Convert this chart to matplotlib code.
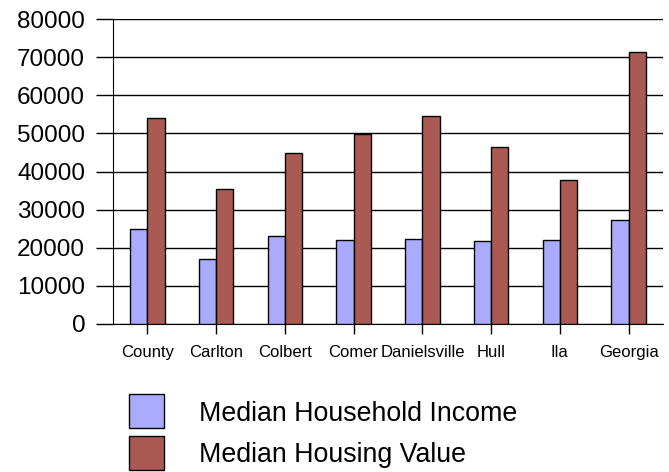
import matplotlib
matplotlib.use("Agg")
import matplotlib.pyplot as plt
from matplotlib.patches import Rectangle
import numpy as np

plt.rcParams["font.family"] = ["Liberation Sans", "DejaVu Sans"]

places = ["County", "Carlton", "Colbert", "Comer", "Danielsville", "Hull", "Ila", "Georgia"]
income = [25000, 17000, 23200, 22000, 22200, 21800, 22000, 27200]
housing = [54000, 35400, 44800, 49800, 54600, 46300, 37800, 71300]
series_names = ["Median Household Income", "Median Housing Value"]
yticks = list(range(0, 80001, 10000))

blue = "#aaaaff"
red = "#aa5953"

W, H = 669, 472
fig = plt.figure(figsize=(W / 100, H / 100), dpi=100)
ax = fig.add_axes([113 / W, 148 / H, 550 / W, 305 / H])

x = np.arange(len(places))
w = 0.25
ax.bar(x - w / 2, income, w, color=blue, edgecolor="black", linewidth=1, zorder=3)
ax.bar(x + w / 2, housing, w, color=red, edgecolor="black", linewidth=1, zorder=3)

ax.set_xlim(-0.5, len(places) - 0.5)
ax.set_ylim(0, 80000)
ax.set_yticks(yticks)
ax.set_yticklabels([str(v) for v in yticks], fontsize=17.5)
ax.set_xticks(x)
ax.set_xticklabels(places, fontsize=12)
ax.yaxis.grid(True, color="black", linewidth=1, zorder=0)
ax.set_axisbelow(True)

ax.tick_params(axis="y", length=12, width=1, pad=8, color="black")
ax.tick_params(axis="x", length=7, width=1, pad=8, color="black")
for s in ["top", "right"]:
    ax.spines[s].set_visible(False)

# legend drawn by hand, in pixel positions of the figure
boxes = [(129, 394, 35, 34), (129, 436, 35, 34)]
baselines = [421, 462.5]
for (bx, by, bw, bh), base, name, col in zip(boxes, baselines, series_names, [blue, red]):
    fig.patches.append(Rectangle((bx / W, 1 - (by + bh) / H), bw / W, bh / H,
                                 transform=fig.transFigure, facecolor=col,
                                 edgecolor="black", linewidth=1))
    fig.text(199 / W, 1 - base / H, name, fontsize=19.3, va="baseline", ha="left")

fig.savefig("out.png", dpi=100)
